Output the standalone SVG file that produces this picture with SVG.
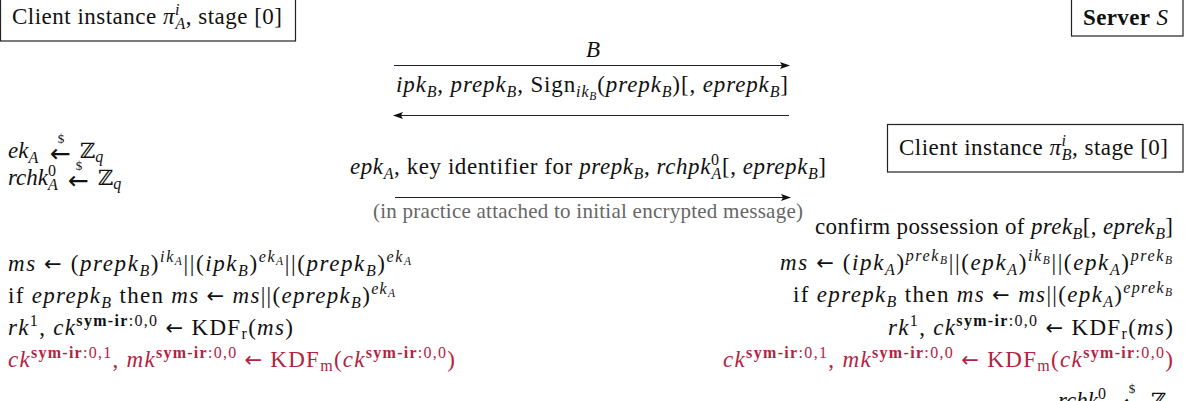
<svg xmlns="http://www.w3.org/2000/svg" width="1189" height="401" viewBox="0 0 1189 401">
<defs>
<style>
.t{font-family:"Liberation Serif","DejaVu Serif",serif;font-size:23px;fill:#111}
.i{font-style:italic}
.s{font-size:16px}
.ss{font-size:11.5px}
.b{font-weight:bold}
.z{font-family:"DejaVu Serif","DejaVu Sans",serif;font-size:21px}
.ar{font-family:"DejaVu Sans",sans-serif;font-size:21px}
.la{font-family:"DejaVu Sans",sans-serif;font-size:25px;fill:#111}
.dol{font-family:"Liberation Serif",serif;font-size:13px;fill:#111}
.red{fill:#b4233f}
.gray{fill:#666;font-size:21px}
.box{fill:#fff;stroke:#222;stroke-width:1.2}
.ln{stroke:#222;stroke-width:1.2;fill:none}
</style>
<marker id="ah" markerWidth="10" markerHeight="8" refX="9" refY="4" orient="auto" markerUnits="userSpaceOnUse">
<path d="M0,0.5 L10,4 L0,7.5 L2,4 Z" fill="#111"/>
</marker>
</defs>
<rect width="1189" height="401" fill="#fff"/>

<g id="clientA">
<rect class="box" x="0.5" y="-8" width="295" height="49"/>
<text class="t" x="12" y="23.5" textLength="270">Client instance <tspan class="i">π</tspan><tspan class="i s" dy="-9">i</tspan><tspan class="i s" dx="-4.5" dy="14">A</tspan><tspan dy="-5">, stage [0]</tspan></text>
</g>

<g id="server">
<rect class="box" x="1071.5" y="-8" width="111.5" height="44"/>
<text class="t" x="1083" y="25" textLength="85"><tspan class="b">Server</tspan> <tspan class="i">S</tspan></text>
</g>

<g id="clientB">
<rect class="box" x="887.5" y="124.5" width="295.5" height="47.5"/>
<text class="t" x="899" y="155" textLength="269">Client instance <tspan class="i">π</tspan><tspan class="i s" dy="-9">i</tspan><tspan class="i s" dx="-4.5" dy="14">B</tspan><tspan dy="-5">, stage [0]</tspan></text>
</g>

<g id="connectors">
<line class="ln" x1="394" y1="65.5" x2="789" y2="65.5" marker-end="url(#ah)"/>
<line class="ln" x1="789" y1="115.5" x2="394" y2="115.5" marker-end="url(#ah)"/>
<line class="ln" x1="395" y1="197.5" x2="790" y2="197.5" marker-end="url(#ah)"/>
</g>

<g id="labels">
<text class="t i" x="593" y="57" text-anchor="middle">B</text>
<text class="t" x="396" y="92" textLength="392"><tspan class="i">ipk</tspan><tspan class="i s" dy="5">B</tspan><tspan dy="-5">, </tspan><tspan class="i">prepk</tspan><tspan class="i s" dy="5">B</tspan><tspan dy="-5">, Sign</tspan><tspan class="i s" dy="5">ik</tspan><tspan class="i ss" dy="3">B</tspan><tspan dy="-8">(</tspan><tspan class="i">prepk</tspan><tspan class="i s" dy="5">B</tspan><tspan dy="-5">)[, </tspan><tspan class="i">eprepk</tspan><tspan class="i s" dy="5">B</tspan><tspan dy="-5">]</tspan></text>
<text class="t" x="350" y="174" textLength="476"><tspan class="i">epk</tspan><tspan class="i s" dy="5">A</tspan><tspan dy="-5">, key identifier for </tspan><tspan class="i">prepk</tspan><tspan class="i s" dy="5">B</tspan><tspan dy="-5">, </tspan><tspan class="i">rchpk</tspan><tspan class="s" dy="-9">0</tspan><tspan class="i s" dx="-8" dy="14">A</tspan><tspan dy="-5">[, </tspan><tspan class="i">eprepk</tspan><tspan class="i s" dy="5">B</tspan><tspan dy="-5">]</tspan></text>
<text class="t gray" x="373" y="218" textLength="430">(in practice attached to initial encrypted message)</text>
</g>

<g id="left">
<text class="t" x="8" y="158"><tspan class="i">ek</tspan><tspan class="i s" dy="5">A</tspan></text>
<text class="la" x="50" y="162">←</text>
<text class="dol" x="61" y="143" text-anchor="middle">$</text>
<text class="t" x="80" y="158"><tspan class="z">ℤ</tspan><tspan class="i s" dy="4">q</tspan></text>

<text class="t" x="8" y="185"><tspan class="i">rchk</tspan><tspan class="s" dy="-9">0</tspan><tspan class="i s" dx="-8" dy="14">A</tspan></text>
<text class="la" x="68" y="189">←</text>
<text class="dol" x="79" y="170" text-anchor="middle">$</text>
<text class="t" x="98" y="185"><tspan class="z">ℤ</tspan><tspan class="i s" dy="4">q</tspan></text>

<text class="t" x="8" y="271" textLength="403"><tspan class="i">ms</tspan> <tspan class="ar">←</tspan> (<tspan class="i">prepk</tspan><tspan class="i s" dy="5">B</tspan><tspan dy="-5">)</tspan><tspan class="i s" dy="-9">ik</tspan><tspan class="i ss" dy="3">A</tspan><tspan dy="6">||(</tspan><tspan class="i">ipk</tspan><tspan class="i s" dy="5">B</tspan><tspan dy="-5">)</tspan><tspan class="i s" dy="-9">ek</tspan><tspan class="i ss" dy="3">A</tspan><tspan dy="6">||(</tspan><tspan class="i">prepk</tspan><tspan class="i s" dy="5">B</tspan><tspan dy="-5">)</tspan><tspan class="i s" dy="-9">ek</tspan><tspan class="i ss" dy="3">A</tspan></text>

<text class="t" x="8" y="303" textLength="387">if <tspan class="i">eprepk</tspan><tspan class="i s" dy="5">B</tspan><tspan dy="-5"> then </tspan><tspan class="i">ms</tspan> <tspan class="ar">←</tspan> <tspan class="i">ms</tspan>||(<tspan class="i">eprepk</tspan><tspan class="i s" dy="5">B</tspan><tspan dy="-5">)</tspan><tspan class="i s" dy="-9">ek</tspan><tspan class="i ss" dy="3">A</tspan></text>

<text class="t" x="8" y="335" textLength="285"><tspan class="i">rk</tspan><tspan class="s" dy="-9">1</tspan><tspan dy="9">, </tspan><tspan class="i">ck</tspan><tspan class="s b" dy="-9">sym-ir</tspan><tspan class="s">:0,0</tspan><tspan dy="9"> </tspan><tspan class="ar">←</tspan> KDF<tspan class="s" dy="4">r</tspan><tspan dy="-4">(</tspan><tspan class="i">ms</tspan>)</text>

<text class="t red" x="8" y="367" textLength="447"><tspan class="i">ck</tspan><tspan class="s b" dy="-9">sym-ir</tspan><tspan class="s">:0,1</tspan><tspan dy="9">, </tspan><tspan class="i">mk</tspan><tspan class="s b" dy="-9">sym-ir</tspan><tspan class="s">:0,0</tspan><tspan dy="9"> </tspan><tspan class="ar">←</tspan> KDF<tspan class="s" dy="4">m</tspan><tspan dy="-4">(</tspan><tspan class="i">ck</tspan><tspan class="s b" dy="-9">sym-ir</tspan><tspan class="s">:0,0</tspan><tspan dy="9">)</tspan></text>
</g>

<g id="right">
<text class="t" x="815" y="234" textLength="358">confirm possession of <tspan class="i">prek</tspan><tspan class="i s" dy="5">B</tspan><tspan dy="-5">[, </tspan><tspan class="i">eprek</tspan><tspan class="i s" dy="5">B</tspan><tspan dy="-5">]</tspan></text>

<text class="t" x="780" y="270" textLength="392"><tspan class="i">ms</tspan> <tspan class="ar">←</tspan> (<tspan class="i">ipk</tspan><tspan class="i s" dy="5">A</tspan><tspan dy="-5">)</tspan><tspan class="i s" dy="-9">prek</tspan><tspan class="i ss" dy="3">B</tspan><tspan dy="6">||(</tspan><tspan class="i">epk</tspan><tspan class="i s" dy="5">A</tspan><tspan dy="-5">)</tspan><tspan class="i s" dy="-9">ik</tspan><tspan class="i ss" dy="3">B</tspan><tspan dy="6">||(</tspan><tspan class="i">epk</tspan><tspan class="i s" dy="5">A</tspan><tspan dy="-5">)</tspan><tspan class="i s" dy="-9">prek</tspan><tspan class="i ss" dy="3">B</tspan></text>

<text class="t" x="793" y="302" textLength="379">if <tspan class="i">eprepk</tspan><tspan class="i s" dy="5">B</tspan><tspan dy="-5"> then </tspan><tspan class="i">ms</tspan> <tspan class="ar">←</tspan> <tspan class="i">ms</tspan>||(<tspan class="i">epk</tspan><tspan class="i s" dy="5">A</tspan><tspan dy="-5">)</tspan><tspan class="i s" dy="-9">eprek</tspan><tspan class="i ss" dy="3">B</tspan></text>

<text class="t" x="888" y="335" textLength="285"><tspan class="i">rk</tspan><tspan class="s" dy="-9">1</tspan><tspan dy="9">, </tspan><tspan class="i">ck</tspan><tspan class="s b" dy="-9">sym-ir</tspan><tspan class="s">:0,0</tspan><tspan dy="9"> </tspan><tspan class="ar">←</tspan> KDF<tspan class="s" dy="4">r</tspan><tspan dy="-4">(</tspan><tspan class="i">ms</tspan>)</text>

<text class="t red" x="723" y="367" textLength="450"><tspan class="i">ck</tspan><tspan class="s b" dy="-9">sym-ir</tspan><tspan class="s">:0,1</tspan><tspan dy="9">, </tspan><tspan class="i">mk</tspan><tspan class="s b" dy="-9">sym-ir</tspan><tspan class="s">:0,0</tspan><tspan dy="9"> </tspan><tspan class="ar">←</tspan> KDF<tspan class="s" dy="4">m</tspan><tspan dy="-4">(</tspan><tspan class="i">ck</tspan><tspan class="s b" dy="-9">sym-ir</tspan><tspan class="s">:0,0</tspan><tspan dy="9">)</tspan></text>

<text class="t" x="1058" y="408"><tspan class="i">rchk</tspan><tspan class="s" dy="-9">0</tspan><tspan class="i s" dx="-8" dy="14">B</tspan></text>
<text class="la" x="1121" y="412">←</text>
<text class="dol" x="1132" y="393" text-anchor="middle">$</text>
<text class="t" x="1151" y="408"><tspan class="z">ℤ</tspan><tspan class="i s" dy="4">q</tspan></text>
</g>
</svg>
